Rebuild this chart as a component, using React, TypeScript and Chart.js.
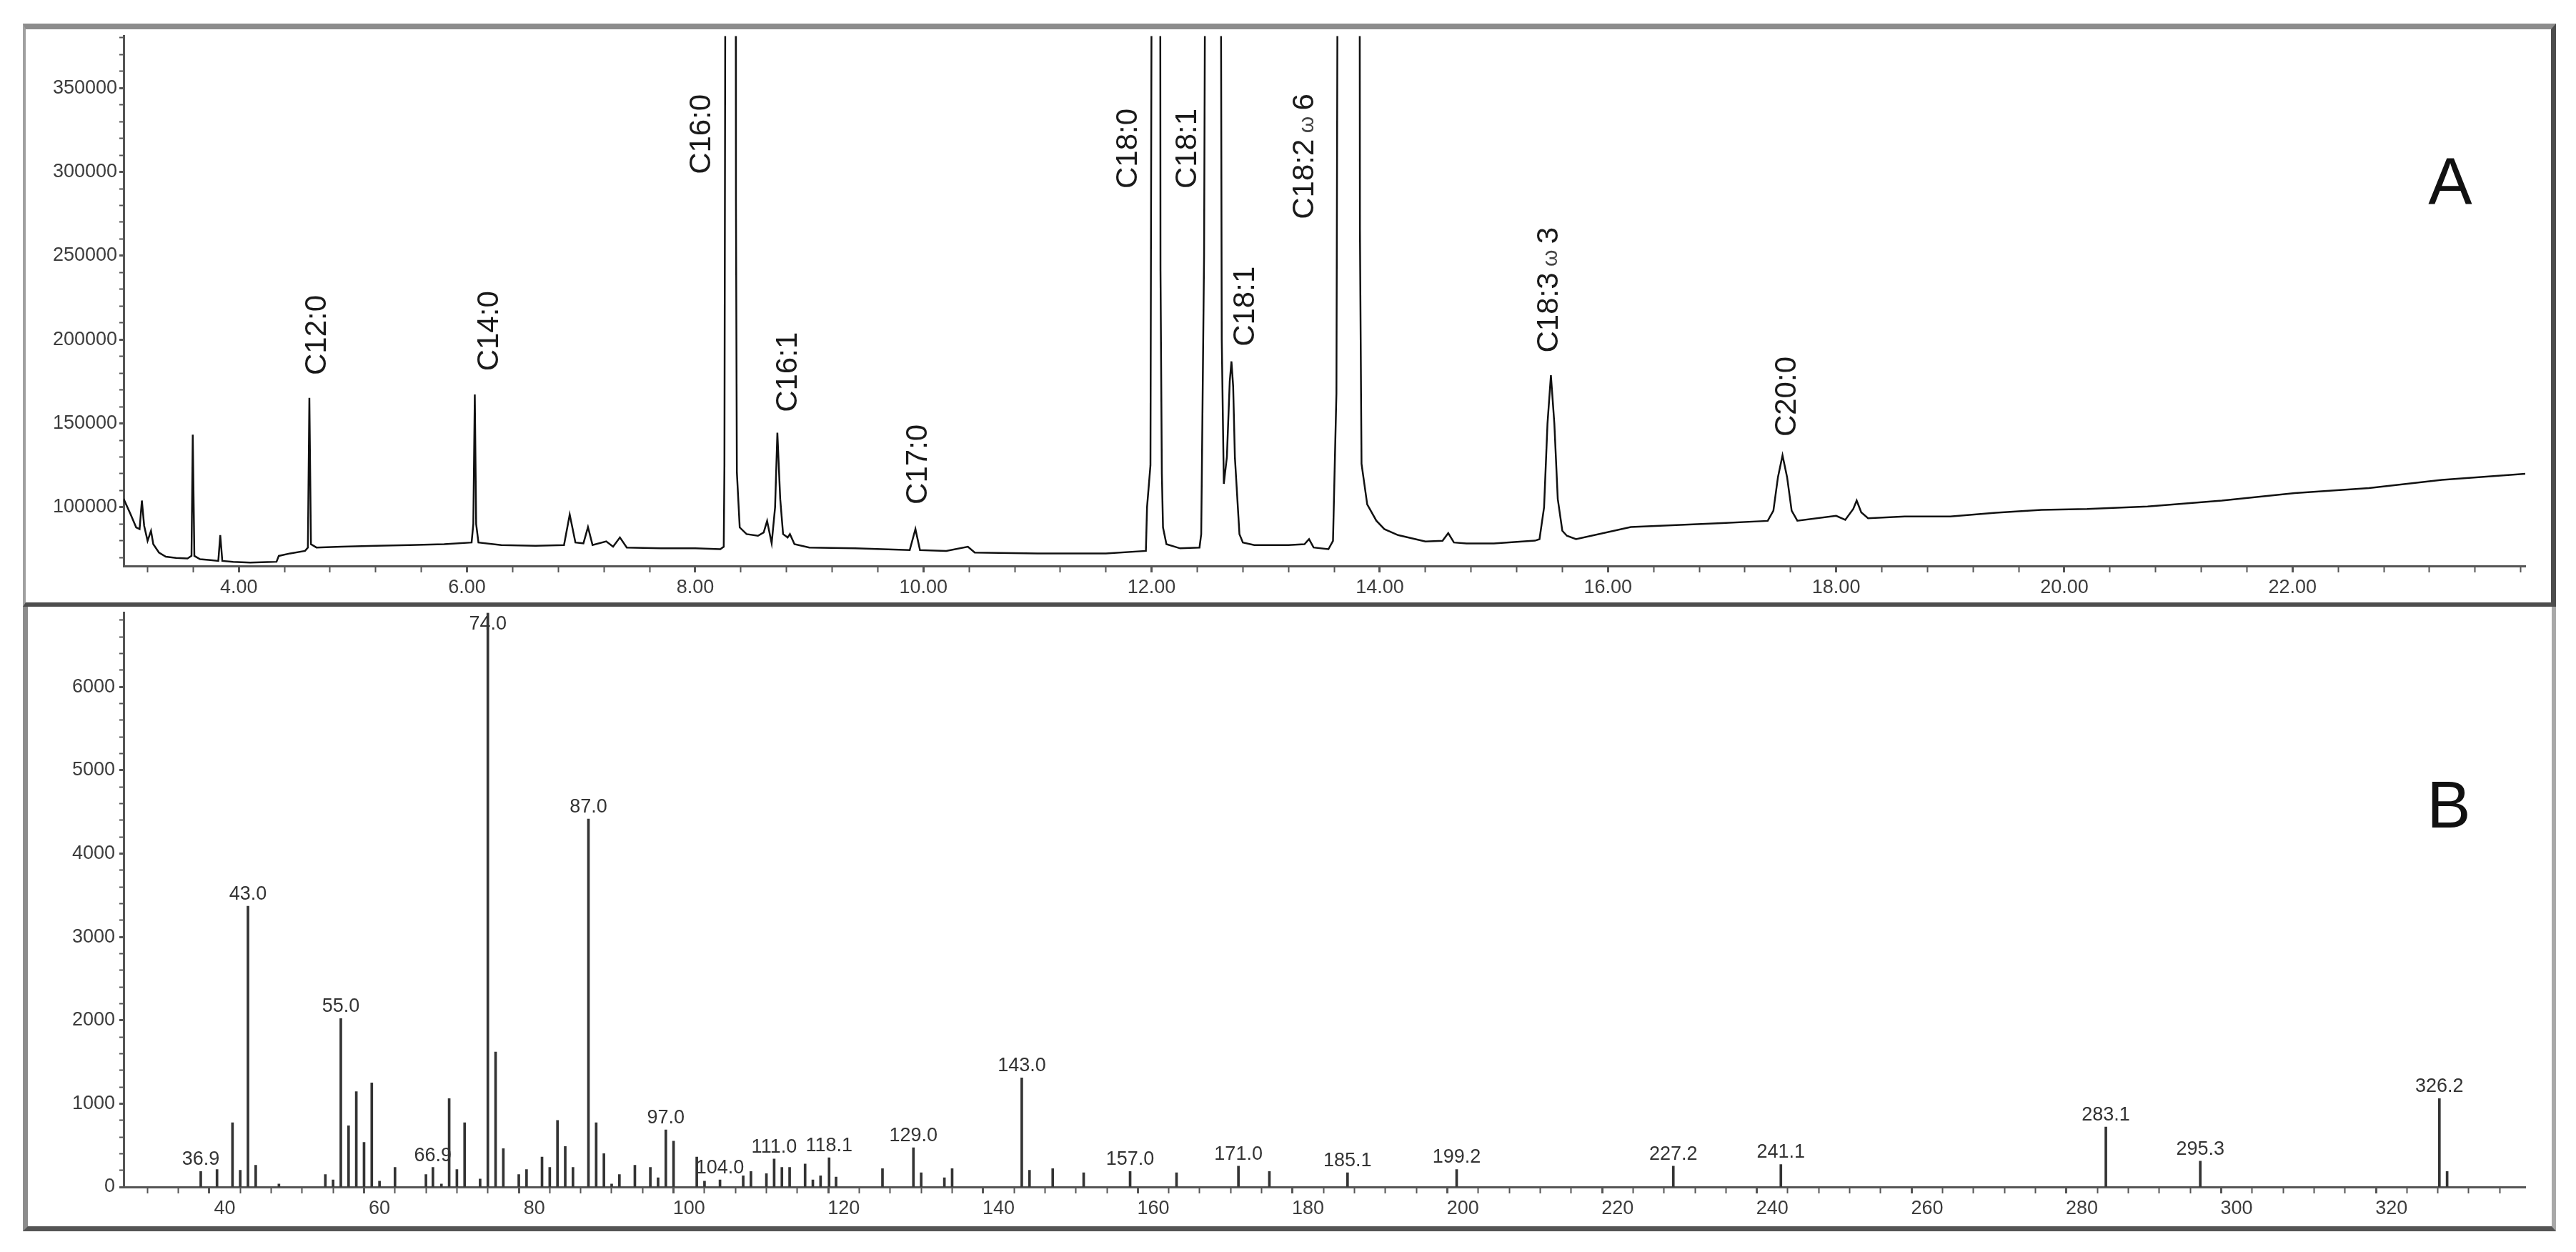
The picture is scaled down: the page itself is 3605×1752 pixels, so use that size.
import React, { useEffect, useRef } from "react";
import { Chart, registerables } from "chart.js";

Chart.register(...registerables);

const FONT = '"Liberation Sans", Arial, sans-serif';

// ---------- Panel A: GC chromatogram ----------
const rtTimes = [
  2.99, 3.05, 3.10, 3.13, 3.15, 3.17, 3.20, 3.23, 3.25, 3.30, 3.36, 3.45, 3.55, 3.585, 3.596, 3.61, 3.66, 3.75, 3.82, 3.837,
  3.855, 3.95, 4.10, 4.25, 4.33, 4.35, 4.45, 4.58, 4.605, 4.618, 4.632, 4.68, 4.90, 5.20, 5.50, 5.80, 6.04, 6.055, 6.068, 6.08,
  6.10, 6.30, 6.60, 6.85, 6.90, 6.95, 7.02, 7.06, 7.10, 7.22, 7.28, 7.34, 7.40, 7.70, 8.00, 8.22, 8.25, 8.256, 8.266, 8.31,
  8.354, 8.357, 8.365, 8.39, 8.45, 8.55, 8.60, 8.63, 8.67, 8.70, 8.72, 8.745, 8.77, 8.81, 8.83, 8.87, 9.00, 9.40, 9.88, 9.93,
  9.97, 10.20, 10.39, 10.45, 11.00, 11.60, 11.95, 11.96, 11.99, 12.003, 12.04, 12.075, 12.078, 12.09, 12.10, 12.13, 12.25, 12.42, 12.435, 12.46,
  12.473, 12.54, 12.605, 12.615, 12.633, 12.66, 12.685, 12.70, 12.715, 12.73, 12.77, 12.80, 12.90, 13.20, 13.34, 13.38, 13.42, 13.55, 13.59, 13.62,
  13.633, 13.73, 13.823, 13.826, 13.84, 13.89, 13.97, 14.04, 14.16, 14.40, 14.55, 14.60, 14.65, 14.76, 15.00, 15.36, 15.40, 15.44, 15.47, 15.50,
  15.53, 15.56, 15.60, 15.64, 15.72, 16.20, 16.60, 17.00, 17.40, 17.45, 17.49, 17.53, 17.57, 17.61, 17.66, 18.00, 18.08, 18.15, 18.18, 18.22,
  18.28, 18.60, 19.00, 19.40, 19.80, 20.20, 20.73, 21.38, 22.02, 22.67, 23.31, 24.04,
];
const rtSignal = [
  105000, 96000, 88000, 87000, 104000, 89000, 80000, 86000, 78000, 73000, 70500, 69800, 69500, 71000, 143300, 71000, 69000, 68500, 68000, 83400,
  68000, 67500, 67000, 67300, 67500, 71000, 72500, 74000, 76000, 165200, 78000, 76000, 76500, 77000, 77500, 78000, 79000, 90000, 167300, 90000,
  79000, 77500, 77000, 77500, 95700, 79000, 78500, 88200, 77500, 79700, 76500, 82000, 76000, 75500, 75500, 75000, 76500, 125000, 500000, 1400000,
  500000, 282700, 121000, 88000, 84000, 83000, 85000, 91900, 78500, 100000, 144500, 105000, 84000, 82000, 84000, 78000, 76000, 75500, 74500, 87000,
  74500, 74000, 76500, 73000, 72500, 72500, 74000, 100000, 125000, 500000, 1500000, 500000, 241000, 120000, 88000, 78000, 75500, 76000, 84000, 250000,
  500000, 1600000, 500000, 200000, 114000, 130000, 175000, 187000, 172000, 130000, 84000, 79000, 77500, 77500, 78000, 81000, 76000, 75000, 80000, 168000,
  500000, 2500000, 500000, 265800, 126000, 101700, 92000, 87000, 83400, 79600, 80000, 84600, 79000, 78400, 78400, 80100, 81000, 100000, 150000, 178800,
  150000, 105000, 86000, 83000, 81000, 88200, 89400, 90600, 91900, 98000, 118000, 131000, 118000, 98000, 92000, 94900, 92500, 99000, 104000, 97000,
  93500, 94500, 94500, 96800, 98500, 99000, 100500, 104000, 108500, 111500, 116400, 120000,
];
const rtMin = 2.99;
const rtMax = 24.04;
const sigMin = 65000;
const sigMax = 381000;
const rtMinorStep = 0.4;
const sigMinorStep = 10000;
const rtTickLabels = ["4.00", "6.00", "8.00", "10.00", "12.00", "14.00", "16.00", "18.00", "20.00", "22.00"];
const sigTickLabels = ["100000", "150000", "200000", "250000", "300000", "350000"];

const peakNames = ["C12:0", "C14:0", "C16:0", "C16:1", "C17:0", "C18:0", "C18:1", "C18:1", "C18:2ω6", "C18:3ω3", "C20:0"];
const peakLabelTimes = [4.69, 6.2, 8.06, 8.815, 9.96, 11.8, 12.32, 12.825, 13.345, 15.485, 17.57];
const peakLabelBase = [178800, 181200, 298600, 156700, 101700, 290000, 290000, 195900, 271800, 192200, 142100];

// ---------- Panel B: mass spectrum ----------
const mzValues = [
  36.9, 39, 41, 42, 43, 44, 47, 53, 54, 55, 56, 57, 58, 59, 60, 62, 66, 66.9, 68, 69, 70, 71, 73,
  74, 75, 76, 78, 79, 81, 82, 83, 84, 85, 87, 88, 89, 90, 91, 93, 95, 96, 97, 98, 101, 102, 104, 107,
  108, 110, 111, 112, 113, 115, 116, 117, 118.1, 119, 125, 129, 130, 133, 134, 143, 144, 147, 151, 157, 163, 171, 175, 185.1,
  199.2, 227.2, 241.1, 283.1, 295.3, 326.2, 327.2,
];
const mzIntensity = [
  185, 210, 770, 200, 3370, 260, 35, 150, 85, 2020, 735, 1145, 535, 1250, 70, 235, 150, 235, 35, 1060, 210, 770, 95,
  6890, 1620, 460, 150, 210, 360, 235, 800, 485, 235, 4415, 770, 400, 35, 150, 260, 235, 110, 685, 550, 360, 70, 85, 135,
  185, 160, 335, 235, 235, 275, 85, 135, 350, 120, 220, 470, 170, 110, 220, 1310, 200, 220, 170, 185, 170, 250, 185, 170,
  210, 250, 270, 720, 310, 1060, 185,
];
const mzLabels = [
  "36.9", "43.0", "55.0", "66.9", "74.0", "87.0", "97.0", "104.0", "111.0", "118.1", "129.0",
  "143.0", "157.0", "171.0", "185.1", "199.2", "227.2", "241.1", "283.1", "295.3", "326.2",
];
const mzMin = 26.93;
const mzMax = 337.3;
const intMin = 0;
const intMax = 6890;
const mzMinorStep = 4;
const intMinorStep = 200;
const mzTickLabels = ["40", "60", "80", "100", "120", "140", "160", "180", "200", "220", "240", "260", "280", "300", "320"];
const intTickLabels = ["0", "1000", "2000", "3000", "4000", "5000", "6000"];

const AXIS_COLOR = "#555";
const TICK_TEXT = "#3c3c3c";

function tickList(min: number, max: number, step: number) {
  const out: { value: number }[] = [];
  const k0 = Math.ceil(min / step - 1e-9);
  for (let k = k0; k * step <= max + 1e-9; k++) out.push({ value: +(k * step).toFixed(6) });
  return out;
}

function drawRotatedLabel(ctx: CanvasRenderingContext2D, text: string, x: number, y: number) {
  ctx.save();
  ctx.translate(x, y);
  ctx.rotate(-Math.PI / 2);
  ctx.textAlign = "left";
  ctx.textBaseline = "middle";
  ctx.fillStyle = "#1a1a1a";
  const parts = text.split("ω");
  let off = 0;
  parts.forEach((p, i) => {
    if (i > 0) {
      ctx.font = `30px ${FONT}`;
      ctx.fillStyle = "#444";
      const w = " ω ";
      ctx.fillText(w, off, 3);
      off += ctx.measureText(w).width;
      ctx.fillStyle = "#1a1a1a";
    }
    ctx.font = `42px ${FONT}`;
    ctx.fillText(p, off, 0);
    off += ctx.measureText(p).width;
  });
  ctx.restore();
}

const peakLabelPlugin = {
  id: "peakLabels",
  afterDraw(chart: any) {
    const { ctx, scales } = chart;
    const xs = scales.x;
    const ys = scales.y;
    peakNames.forEach((name, i) => {
      drawRotatedLabel(ctx, name, xs.getPixelForValue(peakLabelTimes[i]), ys.getPixelForValue(peakLabelBase[i]));
    });
    ctx.save();
    ctx.font = `92px ${FONT}`;
    ctx.fillStyle = "#111";
    ctx.textAlign = "center";
    ctx.textBaseline = "middle";
    ctx.fillText("A", 3389, 220);
    ctx.restore();
  },
};

const stickLabelPlugin = {
  id: "stickLabels",
  afterDraw(chart: any) {
    const { ctx, scales, chartArea } = chart;
    const xs = scales.x;
    const ys = scales.y;
    ctx.save();
    ctx.font = `27px ${FONT}`;
    ctx.fillStyle = "#333";
    ctx.textAlign = "center";
    ctx.textBaseline = "bottom";
    mzLabels.forEach((lab) => {
      const m = parseFloat(lab);
      let idx = 0;
      let best = Infinity;
      mzValues.forEach((v, j) => {
        const d = Math.abs(v - m);
        if (d < best) {
          best = d;
          idx = j;
        }
      });
      const x = xs.getPixelForValue(mzValues[idx]);
      let y = ys.getPixelForValue(mzIntensity[idx]) - 3;
      if (y < chartArea.top + 30) y = chartArea.top + 30;
      ctx.fillText(lab, x, y);
    });
    ctx.font = `92px ${FONT}`;
    ctx.fillStyle = "#111";
    ctx.textBaseline = "middle";
    ctx.fillText("B", 3387, 284);
    ctx.restore();
  },
};

function axisCommon(
  min: number,
  max: number,
  minorStep: number,
  labels: string[],
  fmt: (v: number) => string,
  tickLength: number,
  padding: number
) {
  const isMajor = (v: number) => labels.indexOf(fmt(v)) >= 0;
  return {
    type: "linear" as const,
    offset: false,
    min,
    max,
    afterBuildTicks: (s: any) => {
      s.ticks = tickList(min, max, minorStep);
    },
    ticks: {
      autoSkip: false,
      maxRotation: 0,
      minRotation: 0,
      padding,
      color: TICK_TEXT,
      font: { family: FONT, size: 27 },
      callback: (v: any) => (isMajor(Number(v)) ? fmt(Number(v)) : ""),
    },
    grid: {
      display: true,
      drawOnChartArea: false,
      drawTicks: true,
      tickLength,
      tickColor: AXIS_COLOR,
      tickWidth: (c: any) => (c.tick && isMajor(c.tick.value) ? 3 : 2),
    },
    border: { display: true, color: AXIS_COLOR, width: 3 },
  };
}

function makeChromConfig(): any {
  return {
    type: "line",
    data: {
      datasets: [
        {
          data: rtTimes.map((t, i) => ({ x: t, y: rtSignal[i] })),
          borderColor: "#111",
          borderWidth: 2.5,
          pointRadius: 0,
          tension: 0,
          fill: false,
        },
      ],
    },
    options: {
      responsive: false,
      animation: false,
      events: [],
      layout: { padding: { left: 0, top: 9.5, right: 34, bottom: 0 } },
      plugins: { legend: { display: false }, tooltip: { enabled: false } },
      scales: {
        x: {
          ...axisCommon(rtMin, rtMax, rtMinorStep, rtTickLabels, (v) => v.toFixed(2), 9, 5),
          afterFit: (s: any) => {
            s.height = 50;
            s.paddingLeft = 0;
            s.paddingRight = 0;
          },
        },
        y: {
          ...axisCommon(sigMin, sigMax, sigMinorStep, sigTickLabels, (v) => String(Math.round(v)), 6, 3),
          afterFit: (s: any) => {
            s.width = 133;
            s.paddingTop = 0;
            s.paddingBottom = 0;
          },
        },
      },
    },
    plugins: [peakLabelPlugin],
  };
}

function makeSpectrumConfig(): any {
  return {
    type: "bar",
    data: {
      datasets: [
        {
          data: mzValues.map((m, i) => ({ x: m, y: mzIntensity[i] })),
          backgroundColor: "#333",
          borderWidth: 0,
          barThickness: 3,
        },
      ],
    },
    options: {
      responsive: false,
      animation: false,
      events: [],
      layout: { padding: { left: 0, top: 8.5, right: 34, bottom: 0 } },
      plugins: { legend: { display: false }, tooltip: { enabled: false } },
      scales: {
        x: {
          ...axisCommon(mzMin, mzMax, mzMinorStep, mzTickLabels, (v) => String(Math.round(v)), 9, 5),
          afterFit: (s: any) => {
            s.height = 54;
            s.paddingLeft = 0;
            s.paddingRight = 0;
          },
        },
        y: {
          ...axisCommon(intMin, intMax, intMinorStep, intTickLabels, (v) => String(Math.round(v)), 6, 6),
          afterFit: (s: any) => {
            s.width = 133;
            s.paddingTop = 0;
            s.paddingBottom = 0;
          },
        },
      },
    },
    plugins: [stickLabelPlugin],
  };
}

function ChartCanvas(props: { make: () => any; left: number; top: number; w: number; h: number }) {
  const ref = useRef<HTMLCanvasElement>(null);
  useEffect(() => {
    const chart = new Chart(ref.current as HTMLCanvasElement, props.make());
    return () => chart.destroy();
  }, []);
  return (
    <canvas
      ref={ref}
      width={props.w}
      height={props.h}
      style={{ position: "absolute", left: props.left, top: props.top, width: props.w, height: props.h, display: "block" }}
    />
  );
}

export default function App() {
  return (
    <div
      style={{
        position: "fixed",
        left: 0,
        top: 0,
        width: 3605,
        height: 1752,
        background: "#fff",
        overflow: "hidden",
      }}
    >
      <div
        style={{
          position: "absolute",
          left: 32,
          top: 33,
          width: 3545,
          height: 816,
          boxSizing: "border-box",
          borderTop: "8px solid #8c8c8c",
          borderLeft: "4px solid #a0a0a0",
          borderRight: "7px solid #4d4d4d",
          borderBottom: "6px solid #4d4d4d",
        }}
      />
      <div
        style={{
          position: "absolute",
          left: 32,
          top: 849,
          width: 3545,
          height: 874,
          boxSizing: "border-box",
          borderLeft: "7px solid #8c8c8c",
          borderRight: "6px solid #a8a8a8",
          borderBottom: "7px solid #555",
        }}
      />
      <ChartCanvas make={makeChromConfig} left={40} top={41} w={3528} h={801} />
      <ChartCanvas make={makeSpectrumConfig} left={40} top={849} w={3528} h={866} />
    </div>
  );
}
